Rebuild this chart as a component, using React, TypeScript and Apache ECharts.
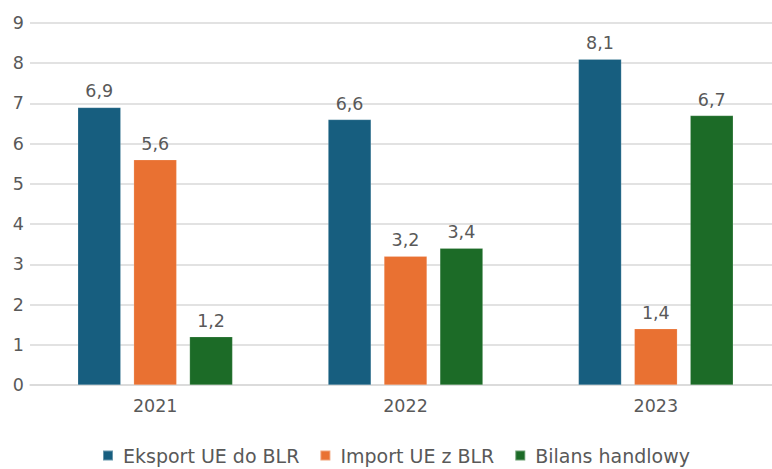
import React, { useEffect, useRef } from "react";
import * as echarts from "echarts";

const categories = ["2021", "2022", "2023"];
const exportValues = [6.9, 6.6, 8.1];
const importValues = [5.6, 3.2, 1.4];
const balanceValues = [1.2, 3.4, 6.7];
const seriesNames = ["Eksport UE do BLR", "Import UE z BLR", "Bilans handlowy"];
const colors = ["#175e7f", "#e97132", "#1c6b27"];

const FONT = "DejaVu Sans";
const TEXT = "#595959";

export default function App() {
  const ref = useRef<HTMLDivElement>(null);
  useEffect(() => {
    if (!ref.current) return;
    const chart = echarts.init(ref.current, null, { renderer: "svg" });
    const mk = (name: string, data: number[], color: string) => ({
      name,
      type: "bar",
      data,
      barWidth: 43,
      barGap: "30%",
      itemStyle: { color, borderColor: "rgba(255,255,255,0.35)", borderWidth: 0.5 },
      label: {
        show: true,
        position: "top",
        distance: 7,
        color: TEXT,
        fontFamily: FONT,
        fontSize: 17.5,
        formatter: (p: any) => String(p.value).replace(".", ","),
      },
    });
    chart.setOption({
      animation: false,
      textStyle: { fontFamily: FONT },
      grid: { left: 30, right: 0, top: 23, bottom: 84, containLabel: false },
      legend: {
        top: 441,
        left: 97,
        itemWidth: 10,
        itemHeight: 10,
        itemGap: 20,
        icon: "rect",
        textStyle: { color: TEXT, fontFamily: FONT, fontSize: 19, padding: [0, 0, 0, 5] },
        data: seriesNames,
      },
      xAxis: {
        type: "category",
        data: categories,
        axisTick: { show: false },
        axisLine: { lineStyle: { color: "#d9d9d9", width: 1.5 } },
        axisLabel: { color: TEXT, fontFamily: FONT, fontSize: 17.5, margin: 12 },
      },
      yAxis: {
        type: "value",
        min: 0,
        max: 9,
        interval: 1,
        axisLine: { show: false },
        axisTick: { show: false },
        splitLine: { lineStyle: { color: "#d9d9d9", width: 1.5 } },
        axisLabel: { color: TEXT, fontFamily: FONT, fontSize: 17.5, margin: 6 },
      },
      series: [
        mk(seriesNames[0], exportValues, colors[0]),
        mk(seriesNames[1], importValues, colors[1]),
        mk(seriesNames[2], balanceValues, colors[2]),
      ],
    });
    return () => chart.dispose();
  }, []);
  return (
    <div style={{ width: 772, height: 469, position: "absolute", left: 0, top: 0, overflow: "hidden" }}>
      <div ref={ref} style={{ width: 781, height: 469 }} />
    </div>
  );
}
